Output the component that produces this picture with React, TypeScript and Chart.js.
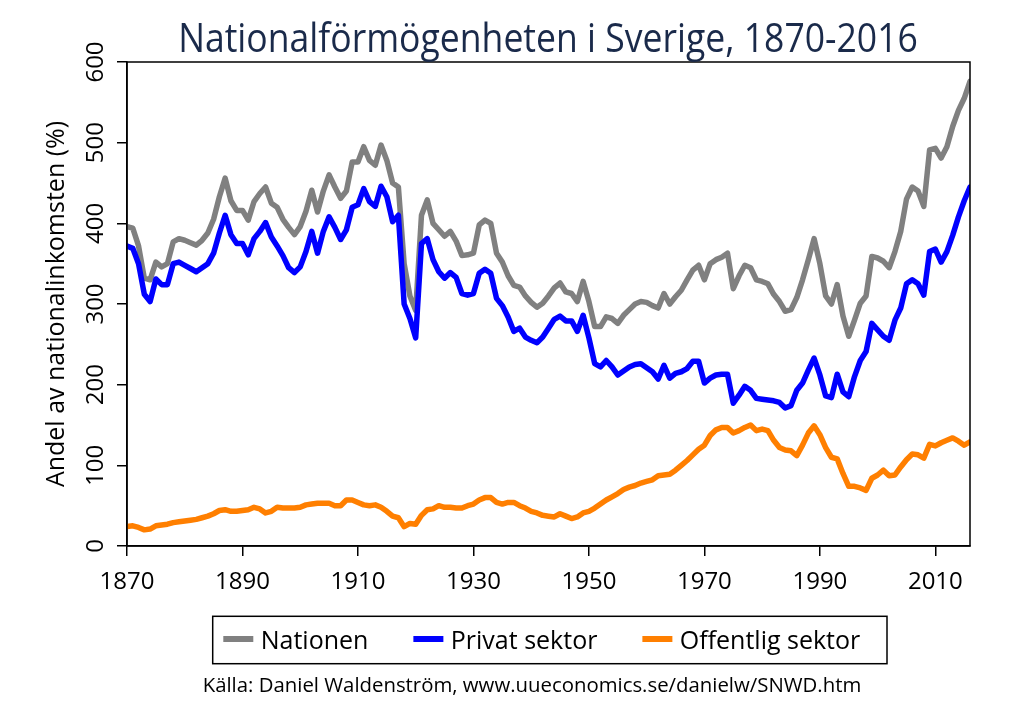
import React, { useEffect, useRef } from "react";
import { Chart, registerables } from "chart.js";

Chart.register(...registerables);

const START_YEAR = 1870;

const nationen = [
  396, 394, 372, 332, 330, 352, 346, 350, 377, 381,
  379, 376, 373, 379, 388, 405, 433, 456, 428, 416,
  416, 404, 427, 437, 445, 425, 420, 405, 395, 386,
  396, 415, 441, 414, 440, 460, 445, 431, 440, 476,
  476, 495, 478, 472, 497, 478, 450, 445, 350, 310,
  292, 410, 429, 400, 392, 384, 390, 378, 360, 361,
  363, 398, 404, 400, 363, 352, 335, 323, 321, 310,
  302, 296, 301, 310, 320, 326, 315, 313, 303, 328,
  303, 272, 272, 284, 282, 276, 286, 293, 300, 303,
  302, 298, 295, 313, 300, 309, 317, 330, 342, 348,
  330, 350, 355, 358, 363, 319, 335, 348, 345, 330,
  328, 325, 312, 303, 291, 293, 308, 330, 355, 381,
  350, 310, 300, 324, 285, 260, 280, 301, 310, 359,
  357, 353, 345, 365, 390, 430, 445, 440, 421, 491,
  493, 481, 495, 520, 540, 555, 576,
];

const privat = [
  372, 369, 350, 312, 303, 331, 324, 324, 350, 352,
  348, 344, 340, 345, 350, 363, 388, 410, 386, 375,
  375, 361, 381, 390, 401, 383, 372, 360, 345, 339,
  346, 365, 390, 363, 390, 408, 395, 380, 392, 420,
  423, 443, 427, 421, 446, 433, 402, 410, 300, 282,
  258, 375, 381, 355, 340, 332, 339, 333, 313, 311,
  313, 338, 343, 338, 307, 298, 284, 266, 270, 259,
  255, 252, 259, 270, 281, 285, 279, 279, 266, 286,
  258, 226, 222, 230, 222, 212, 217, 222, 225, 226,
  221, 216, 207, 224, 208, 214, 216, 220, 229, 229,
  202, 208, 212, 213, 213, 177, 187, 198, 193, 183,
  182, 181, 180, 178, 171, 174, 193, 202, 218, 233,
  212, 186, 184, 213, 191, 185, 210, 230, 241, 276,
  268, 260, 255, 280, 295, 325, 330, 325, 311, 365,
  368, 352, 365, 385, 408, 428, 445,
];

const offentlig = [
  24, 25, 23, 20, 21, 25, 26, 27, 29, 30,
  31, 32, 33, 35, 37, 40, 44, 45, 43, 43,
  44, 45, 48, 46, 41, 43, 48, 47, 47, 47,
  48, 51, 52, 53, 53, 53, 50, 50, 57, 57,
  54, 51, 50, 51, 48, 43, 37, 35, 24, 28,
  27, 38, 45, 46, 50, 48, 48, 47, 47, 50,
  52, 57, 60, 60, 54, 52, 54, 54, 50, 47,
  43, 41, 38, 37, 36, 40, 37, 34, 36, 41,
  43, 47, 52, 57, 61, 65, 70, 73, 75, 78,
  80, 82, 87, 88, 89, 94, 100, 106, 113, 120,
  125, 137, 144, 147, 147, 140, 143, 147, 150, 143,
  145, 143, 131, 122, 119, 118, 112, 125, 140, 149,
  138, 122, 110, 108, 90, 74, 74, 72, 69, 84,
  88, 94, 87, 88, 98, 107, 114, 113, 109, 126,
  124, 128, 131, 134, 130, 125, 129,
];

const years = nationen.map((_, i) => START_YEAR + i);

const seriesLabels = ["Nationen", "Privat sektor", "Offentlig sektor"];
const seriesColors = ["#808080", "#0000ff", "#ff7f00"];
const xTickValues = [1870, 1890, 1910, 1930, 1950, 1970, 1990, 2010];
const yTickValues = [0, 100, 200, 300, 400, 500, 600];

const titleText = "Nationalförmögenheten i Sverige, 1870-2016";
const yTitleText = "Andel av nationalinkomsten (%)";
const sourceText = "Källa: Daniel Waldenström, www.uueconomics.se/danielw/SNWD.htm";

const FONT = '"Open Sans", "Noto Sans", sans-serif';

function fitFont(ctx: CanvasRenderingContext2D, text: string, target: number) {
  ctx.font = `40px ${FONT}`;
  const w = ctx.measureText(text).width;
  return (40 * target) / w;
}

const textPlugin = {
  id: "textPlugin",
  afterDraw(chart: any) {
    const ctx: CanvasRenderingContext2D = chart.ctx;
    const { left, right, top, bottom } = chart.chartArea;
    ctx.save();

    // frame
    ctx.strokeStyle = "#000";
    ctx.lineWidth = 1.5;
    ctx.strokeRect(left, top, right - left, bottom - top);

    // x tick labels
    ctx.fillStyle = "#000";
    ctx.font = `24px ${FONT}`;
    ctx.textAlign = "center";
    ctx.textBaseline = "alphabetic";
    const xs = chart.scales.x;
    xTickValues.forEach((v) => {
      ctx.fillText(String(v), xs.getPixelForValue(v), 588.5);
    });

    // y tick labels (rotated)
    const ys = chart.scales.y;
    yTickValues.forEach((v) => {
      const py = ys.getPixelForValue(v);
      ctx.save();
      ctx.translate(103, py);
      ctx.rotate(-Math.PI / 2);
      ctx.fillText(String(v), 0, 0);
      ctx.restore();
    });

    // y title
    ctx.save();
    ctx.font = `25px ${FONT}`;
    ctx.translate(63.5, (top + bottom) / 2);
    ctx.rotate(-Math.PI / 2);
    ctx.fillText(yTitleText, 0, 0);
    ctx.restore();

    // title
    const ts = fitFont(ctx, titleText, 740);
    ctx.save();
    ctx.font = `${ts}px ${FONT}`;
    ctx.fillStyle = "#1a2a4a";
    ctx.translate(548, 51.7);
    ctx.scale(1, 1.15);
    ctx.fillText(titleText, 0, 0);
    ctx.restore();

    // legend
    const boxL = 212.7;
    const boxT = 616.3;
    const boxR = 887;
    const boxB = 663.7;
    ctx.strokeStyle = "#000";
    ctx.lineWidth = 1.5;
    ctx.strokeRect(boxL, boxT, boxR - boxL, boxB - boxT);
    ctx.font = `25px ${FONT}`;
    ctx.textAlign = "left";
    let x = 223.3;
    chart.data.datasets
      .slice()
      .sort((a: any, b: any) => a.legendIndex - b.legendIndex)
      .forEach((ds: any) => {
        ctx.fillStyle = ds.borderColor;
        ctx.fillRect(x, 636, 30, 6);
        ctx.fillStyle = "#000";
        const tx = x + 37.4;
        ctx.fillText(ds.label, tx, 648.7);
        x = tx + ctx.measureText(ds.label).width + 45;
      });

    // source
    const ss = fitFont(ctx, sourceText, 659);
    ctx.font = `${ss}px ${FONT}`;
    ctx.fillStyle = "#000";
    ctx.textAlign = "left";
    ctx.fillText(sourceText, 202.7, 692);

    ctx.restore();
  },
};

export default function App() {
  const canvasRef = useRef<HTMLCanvasElement | null>(null);

  useEffect(() => {
    if (!canvasRef.current) return;
    const seriesValues = [nationen, privat, offentlig];
    const axisStyle = {
      grid: {
        drawOnChartArea: false,
        drawTicks: true,
        tickLength: 10,
        color: "#000",
        lineWidth: 1.5,
      },
      border: { display: true, color: "#000", width: 1.5 },
      ticks: { display: false },
    };
    const chart = new Chart(canvasRef.current, {
      type: "line",
      data: {
        datasets: seriesValues.map((vals, k) => ({
          label: seriesLabels[k],
          legendIndex: k,
          data: years.map((yr, i) => ({ x: yr, y: vals[i] })),
          borderColor: seriesColors[k],
          backgroundColor: seriesColors[k],
          borderWidth: 5.5,
          pointRadius: 0,
          pointHoverRadius: 0,
          fill: false,
          tension: 0,
          borderJoinStyle: "round",
          borderCapStyle: "round",
          order: 3 - k,
        })) as any,
      },
      options: {
        animation: false,
        responsive: true,
        maintainAspectRatio: false,
        layout: { padding: { top: 62, right: 54, bottom: 130, left: 0 } },
        plugins: {
          legend: { display: false },
          title: { display: false },
          tooltip: { enabled: false },
        },
        scales: {
          x: {
            type: "linear",
            min: 1870,
            max: 2016,
            afterBuildTicks: (s: any) => {
              s.ticks = xTickValues.map((v) => ({ value: v }));
            },
            afterFit: (s: any) => {
              s.height = 40;
            },
            ...axisStyle,
          },
          y: {
            type: "linear",
            min: 0,
            max: 600,
            afterBuildTicks: (s: any) => {
              s.ticks = yTickValues.map((v) => ({ value: v }));
            },
            afterFit: (s: any) => {
              s.width = 127;
            },
            ...axisStyle,
          },
        },
      } as any,
      plugins: [textPlugin],
    });
    return () => chart.destroy();
  }, []);

  return (
    <div
      style={{
        position: "fixed",
        left: 0,
        top: 0,
        width: 1024,
        height: 716,
        background: "#fff",
      }}
    >
      <canvas ref={canvasRef} />
    </div>
  );
}
